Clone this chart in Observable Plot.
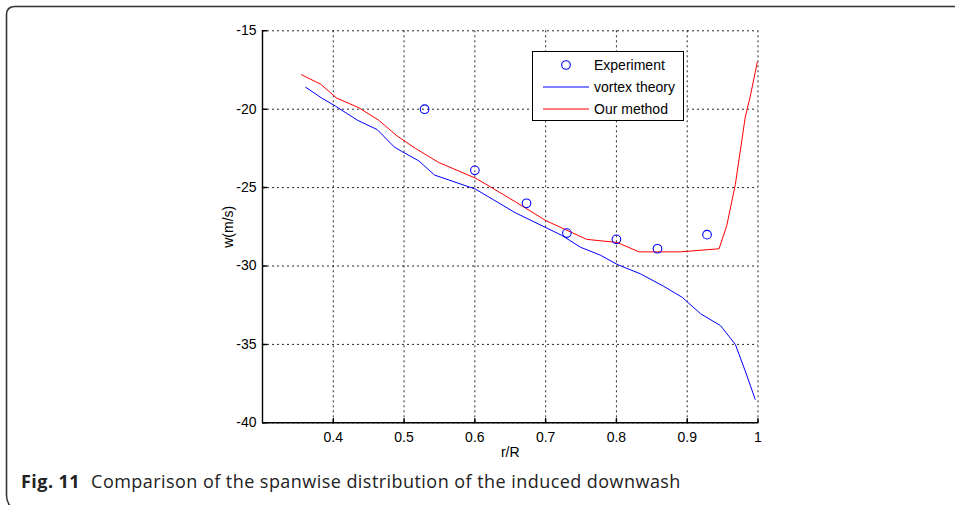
<!DOCTYPE html>
<html>
<head>
<meta charset="utf-8">
<script src="https://cdn.jsdelivr.net/npm/d3@7"></script>
<script src="https://cdn.jsdelivr.net/npm/@observablehq/plot@0.6"></script>
<style>
  html, body { margin: 0; padding: 0; background: #fff; }
  body { width: 955px; height: 505px; position: relative; overflow: hidden; font-family: "Liberation Sans", Arial, sans-serif; }
  #frame { position: absolute; left: 0; top: 0; }
  #chart { position: absolute; left: 0; top: 0; }
  #legend { position: absolute; left: 532px; top: 51px; width: 152px; height: 70px; background: #fff; border: 1px solid #000; box-sizing: border-box; }
  #legend svg { position: absolute; left: 0; top: 0; }
  #caption { position: absolute; left: 21px; top: 472px; font-family: "Open Sans", "Noto Sans", sans-serif; font-size: 18px; line-height: 18px; letter-spacing: 0.45px; color: #222; white-space: nowrap; }
  #caption b { font-weight: 700; margin-right: 11px; }
</style>
</head>
<body>
<svg id="frame" width="955" height="505">
  <path d="M6.5,495 L6.5,15 Q6.5,6.5 15,6.5 L960,6.5 M6.5,495 Q6.5,503 12,508" fill="none" stroke="#333" stroke-width="1.6"/>
</svg>
<div id="chart"></div>
<div id="legend"></div>
<div id="caption"><b>Fig. 11</b>Comparison of the spanwise distribution of the induced downwash</div>
<script>
// Spanwise position r/R and induced downwash w (m/s)
const expR = [0.529, 0.600, 0.673, 0.730, 0.800, 0.858, 0.928];
const expW = [-20.0, -23.9, -26.0, -27.9, -28.3, -28.9, -28.0];

const vortexR = [0.361, 0.384, 0.403, 0.434, 0.462, 0.486, 0.497, 0.521, 0.543, 0.601, 0.657, 0.723, 0.749, 0.777, 0.801, 0.834, 0.867, 0.893, 0.919, 0.947, 0.968, 0.982, 0.996];
const vortexW = [-18.6, -19.3, -19.8, -20.7, -21.3, -22.4, -22.7, -23.3, -24.2, -25.1, -26.6, -28.05, -28.8, -29.3, -29.9, -30.5, -31.3, -32.0, -33.05, -33.8, -35.0, -36.7, -38.5];

const oursR = [0.355, 0.382, 0.405, 0.436, 0.464, 0.490, 0.516, 0.549, 0.601, 0.620, 0.657, 0.700, 0.758, 0.801, 0.832, 0.890, 0.945, 0.956, 0.968, 0.982, 0.989, 0.999];
const oursW = [-17.8, -18.4, -19.3, -19.9, -20.7, -21.7, -22.5, -23.4, -24.4, -24.9, -25.9, -27.1, -28.3, -28.5, -29.1, -29.1, -28.9, -27.4, -24.8, -20.5, -19.2, -17.0];

const xTicks = [0.4, 0.5, 0.6, 0.7, 0.8, 0.9, 1];
const yTicks = [-40, -35, -30, -25, -20, -15];

const seriesNames = ["Experiment", "vortex theory", "Our method"];
const seriesColors = ["#0000ff", "#0000ff", "#ff0000"];

const experiment = expR.map((r, i) => ({r, w: expW[i]}));
const vortex = vortexR.map((r, i) => ({r, w: vortexW[i]}));
const ours = oursR.map((r, i) => ({r, w: oursW[i]}));

// short inward tick marks
const tickShape = {draw(ctx, l) { ctx.moveTo(0, 0); ctx.lineTo(0, -l); }};

const grid = {stroke: "#000", strokeOpacity: 0.85, strokeWidth: 1, strokeDasharray: "2,3"};
const font = "Liberation Sans, Arial, sans-serif";

const chart = Plot.plot({
  width: 955,
  height: 470,
  marginLeft: 262,
  marginRight: 197.5,
  marginTop: 30.3,
  marginBottom: 47.7,
  style: {fontFamily: font, fontSize: "14px", color: "#000", background: "transparent"},
  x: {domain: [0.3, 1]},
  y: {domain: [-40, -15]},
  marks: [
    Plot.gridX(xTicks, grid),
    Plot.gridY(yTicks, grid),
    Plot.ruleX([0.3], {stroke: "#000", strokeWidth: 1.4}),
    Plot.ruleY([-40], {stroke: "#000", strokeWidth: 1.4}),
    Plot.vector(xTicks, {x: d => d, y: -40, length: 4, rotate: 0, anchor: "start", shape: tickShape, stroke: "#000"}),
    Plot.vector(yTicks, {x: 0.3, y: d => d, length: 4, rotate: 90, anchor: "start", shape: tickShape, stroke: "#000"}),
    Plot.axisX(xTicks, {tickSize: 0, tickPadding: 9, tickFormat: d => String(d), label: null, fontSize: 14}),
    Plot.axisY(yTicks, {tickSize: 0, tickPadding: 6, tickFormat: d => String(d), label: null, fontSize: 14}),
    Plot.text(["r/R"], {frameAnchor: "bottom", lineAnchor: "middle", textAnchor: "middle", dy: 30, fontSize: 14}),
    Plot.text(["w(m/s)"], {frameAnchor: "left", textAnchor: "middle", lineAnchor: "middle", dx: -34, rotate: -90, fontSize: 14}),
    Plot.line(vortex, {x: "r", y: "w", stroke: seriesColors[1], strokeWidth: 1}),
    Plot.line(ours, {x: "r", y: "w", stroke: seriesColors[2], strokeWidth: 1}),
    Plot.dot(experiment, {x: "r", y: "w", r: 4.3, stroke: seriesColors[0], strokeWidth: 1.1, fill: "none"})
  ]
});
document.getElementById("chart").appendChild(chart);

// legend box
const lg = d3.select("#legend").append("svg").attr("width", 152).attr("height", 70)
  .style("font-family", font).style("font-size", "14px");
const rowY = [13, 35, 57];
seriesNames.forEach((name, i) => {
  if (i === 0) {
    lg.append("circle").attr("cx", 33).attr("cy", rowY[i]).attr("r", 4.3)
      .attr("fill", "none").attr("stroke", seriesColors[i]).attr("stroke-width", 1.1);
  } else {
    lg.append("line").attr("x1", 10).attr("x2", 56).attr("y1", rowY[i]).attr("y2", rowY[i])
      .attr("stroke", seriesColors[i]).attr("stroke-width", 1);
  }
  lg.append("text").attr("x", 61).attr("y", rowY[i]).attr("dy", "0.35em").text(name);
});
</script>
</body>
</html>
